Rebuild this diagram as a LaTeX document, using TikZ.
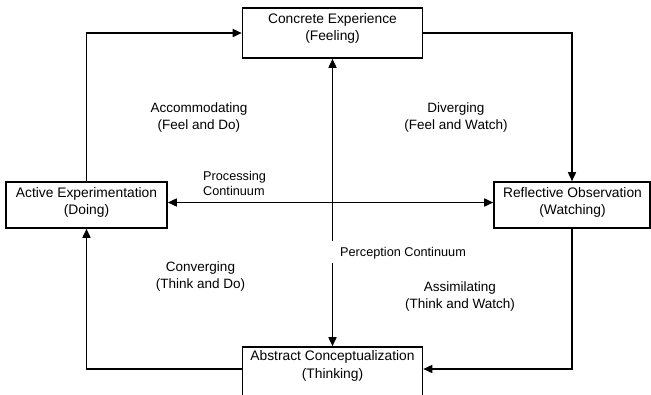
\documentclass[tikz,border=0pt]{standalone}
\usepackage{fontspec}
\setmainfont{Liberation Sans}
\usetikzlibrary{arrows.meta}
\begin{document}
\begin{tikzpicture}[x=1pt,y=-1pt,
  box/.style={draw, line width=1.6pt, rectangle, inner sep=0pt},
  boxtext/.style={align=center, inner sep=0pt, font=\fontsize{13.8}{17.5}\selectfont},
  lbl/.style={align=center, inner sep=0pt, font=\fontsize{13.5}{17}\selectfont},
  smalllbl/.style={align=left, inner sep=0pt, font=\fontsize{12.7}{15}\selectfont},
  conn/.style={line width=1.6pt},
  tip/.style={conn, -{Triangle[length=9pt,width=8pt]}},
  tips/.style={conn, {Triangle[length=9pt,width=8pt]}-{Triangle[length=9pt,width=8pt]}}
]
\useasboundingbox (0,0) rectangle (651,394);

% boxes
\node[box, minimum width=180pt, minimum height=50pt] (ce) at (332.5,33) {};
\node[box, minimum width=161pt, minimum height=46pt] (ae) at (86.5,205) {};
\node[box, minimum width=156pt, minimum height=46pt] (ro) at (572,205) {};
\node[box, minimum width=180pt, minimum height=54pt] (ac) at (332.5,374) {};

% box texts
\node[boxtext] (cet) at (332.5,28.5) {Concrete Experience\\(Feeling)};
\node[boxtext] (aet) at (86.5,202.5) {Active Experimentation\\(Doing)};
\node[boxtext] (rot) at (572.5,202.5) {Reflective Observation\\(Watching)};
\node[boxtext] (act) at (332.5,366) {Abstract Conceptualization\\(Thinking)};

% cycle connectors
\draw[tip] (ae.north) |- (ce.west);
\draw[tip] (ce.east) -| (ro.north);
\draw[tip] (ro.south) |- ([yshift=5pt]ac.east);
\draw[tip] ([yshift=5pt]ac.west) -| (ae.south);

% continua
\draw[tips] ([yshift=2.5pt]ae.east) -- ([yshift=2.5pt]ro.west);
\coordinate (p1) at (332.5,241);
\coordinate (p2) at (332.5,263);
\draw[tip] (p1) -- (ce.south);
\draw[tip] (p2) -- (ac.north);

% labels
\node[lbl] (acc) at (199,118) {Accommodating\\(Feel and Do)};
\node[lbl] (div) at (456,118) {Diverging\\(Feel and Watch)};
\node[lbl] (con) at (200.5,277) {Converging\\(Think and Do)};
\node[lbl] (ass) at (460,297) {Assimilating\\(Think and Watch)};
\node[smalllbl, anchor=west] (proc) at (203,183) {Processing\\Continuum};
\node[smalllbl, anchor=west] (perc) at (340,253.5) {Perception Continuum};
\end{tikzpicture}
\end{document}
